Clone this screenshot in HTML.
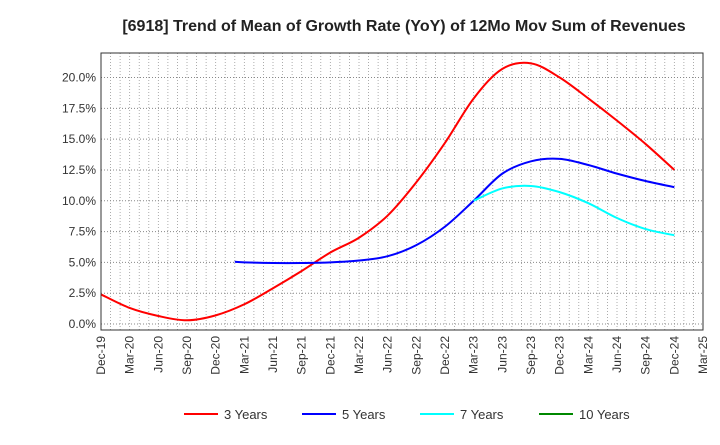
<!DOCTYPE html>
<html><head><meta charset="utf-8"><style>
body{margin:0;background:#fff;font-family:"Liberation Sans",sans-serif}
</style></head><body>
<svg id="c" width="720" height="440" xmlns="http://www.w3.org/2000/svg">
<text x="404" y="31" text-anchor="middle" font-size="16" font-weight="bold" fill="#222">[6918]  Trend of Mean of Growth Rate (YoY) of 12Mo Mov Sum of Revenues</text>
<g id="grid"></g><g id="series"></g><g id="axes"></g>
<g font-size="13" fill="#333">
<line x1="184" y1="414" x2="218" y2="414" stroke="#f00" stroke-width="2"/><text x="224" y="419">3 Years</text>
<line x1="302" y1="414" x2="336" y2="414" stroke="#00f" stroke-width="2"/><text x="342" y="419">5 Years</text>
<line x1="420" y1="414" x2="454" y2="414" stroke="#0ff" stroke-width="2"/><text x="460" y="419">7 Years</text>
<line x1="539" y1="414" x2="573" y2="414" stroke="#080" stroke-width="2"/><text x="579" y="419">10 Years</text>
</g>
</svg>
<script>
const xLabels=["Dec-19","Mar-20","Jun-20","Sep-20","Dec-20","Mar-21","Jun-21","Sep-21","Dec-21","Mar-22","Jun-22","Sep-22","Dec-22","Mar-23","Jun-23","Sep-23","Dec-23","Mar-24","Jun-24","Sep-24","Dec-24","Mar-25"];
const yTicks=[0,2.5,5,7.5,10,12.5,15,17.5,20];
const y3Months=[0,3,6,9,12,15,18,21,24,27,30,33,36,39,42,45,48,51,54,57,60];
const y3Values=[2.4,1.3,0.65,0.3,0.7,1.6,2.9,4.3,5.8,7.0,8.8,11.5,14.7,18.3,20.7,21.15,20.0,18.3,16.5,14.6,12.5];
const y5Months=[14,15,18,21,24,27,30,33,36,39,42,45,48,51,54,57,60];
const y5Values=[5.05,5.0,4.95,4.95,5.0,5.15,5.5,6.4,7.9,10.0,12.2,13.2,13.4,12.9,12.2,11.6,11.1];
const y7Months=[39,42,45,48,51,54,57,60];
const y7Values=[10.0,11.0,11.2,10.7,9.8,8.6,7.7,7.2];
const L=101,R=703,T=53,B=330;
const X=m=>L+m*(R-L)/63;
const Y=v=>324-v*(324-77.5)/20;
const NS="http://www.w3.org/2000/svg";
function mk(p,t,a){const e=document.createElementNS(NS,t);for(const k in a)e.setAttribute(k,a[k]);p.appendChild(e);return e;}
const g=document.getElementById('grid'),ax=document.getElementById('axes'),sg=document.getElementById('series');
for(let m=1;m<63;m++){const l=mk(g,'line',{x1:X(m),x2:X(m),y1:T,y2:B,stroke:'#999','stroke-dasharray':'1,2','stroke-width':0.8});

}
yTicks.forEach(v=>{const l=mk(g,'line',{x1:L,x2:R,y1:Y(v),y2:Y(v),stroke:'#888','stroke-dasharray':'1,2','stroke-width':1});


const t=mk(ax,'text',{x:L-5,y:Y(v)+4,'text-anchor':'end','font-size':12,fill:'#333'});t.textContent=v.toFixed(1)+'%';

});
const fr=mk(ax,'rect',{x:L,y:T,width:R-L,height:B-T,fill:'none',stroke:'#333','stroke-width':1});


xLabels.forEach((s,i)=>{const x=X(i*3);const t=mk(ax,'text',{transform:`translate(${x+4},${B+6}) rotate(-90)`,'text-anchor':'end','font-size':12,fill:'#333'});t.textContent=s;

});
function path(ms,vs){const p=ms.map((m,i)=>[X(m),Y(vs[i])]);let d='M'+p[0].join(',');
for(let i=0;i<p.length-1;i++){const p0=p[i-1]||p[i],p1=p[i],p2=p[i+1],p3=p[i+2]||p2;
d+=`C${p1[0]+(p2[0]-p0[0])/6},${p1[1]+(p2[1]-p0[1])/6} ${p2[0]-(p3[0]-p1[0])/6},${p2[1]-(p3[1]-p1[1])/6} ${p2[0]},${p2[1]}`;}return d;}
[[y3Months,y3Values,'#f00','line-3-years'],[y5Months,y5Values,'#00f','line-5-years'],[y7Months,y7Values,'#0ff','line-7-years']].forEach(s=>{
const e=mk(sg,'path',{d:path(s[0],s[1]),fill:'none',stroke:s[2],'stroke-width':2});

});
</script>
</body></html>
